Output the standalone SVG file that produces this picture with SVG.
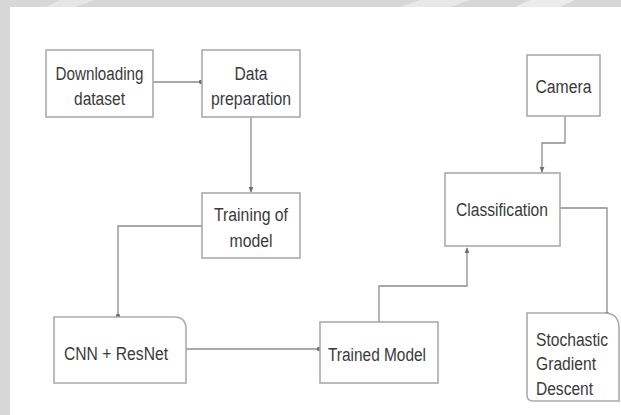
<svg xmlns="http://www.w3.org/2000/svg" width="621" height="415" viewBox="0 0 621 415">
<style>
.bg{fill:#ffffff}
.band{fill:#d7d7d7}
.box{fill:#ffffff;stroke:#ababab;stroke-width:1.6}
.lbl{font-family:"Liberation Sans",Arial,sans-serif;font-size:18px;fill:#3a3a3a;text-anchor:middle}
.lft{text-anchor:start}
.conn{fill:none;stroke:#8c8c8c;stroke-width:1.3}
</style>
<defs>
<marker id="dot" viewBox="0 0 6 6" refX="3" refY="3" markerWidth="5" markerHeight="5" markerUnits="userSpaceOnUse" orient="auto">
<circle cx="3" cy="3" r="2.6" fill="#6f6f6f"/>
</marker>
<marker id="arr" viewBox="0 0 8 8" refX="7" refY="4" markerWidth="6" markerHeight="6" markerUnits="userSpaceOnUse" orient="auto">
<path d="M0,0.8 L8,4 L0,7.2 Z" fill="#6f6f6f"/>
</marker>
</defs>
<rect class="bg" x="0" y="0" width="621" height="415"/>
<rect class="band" x="0" y="0" width="621" height="7"/>
<rect class="band" x="0" y="0" width="10" height="415"/>
<polygon points="60,0 95,0 75,7 45,7" fill="#e6e6e6"/>
<polygon points="420,0 470,0 450,7 400,7" fill="#e8e8e8"/>
<polygon points="530,0 575,0 560,7 515,7" fill="#ebebeb"/>

<g id="connectors">
<path class="conn" d="M153,82 H201" marker-end="url(#dot)"/>
<path class="conn" d="M251,117 V192" marker-end="url(#arr)"/>
<path class="conn" d="M202,226 H118 V316" marker-end="url(#dot)"/>
<path class="conn" d="M186,349 H319" marker-end="url(#dot)"/>
<path class="conn" d="M379,322 V286 H467 V248" marker-end="url(#arr)"/>
<path class="conn" d="M565,116 V143 H542 V172" marker-end="url(#arr)"/>
<path class="conn" d="M560,208 H607 V314" marker-end="url(#dot)"/>
</g>

<g id="downloading">
<rect class="box" x="46" y="50" width="107" height="67"/>
<text class="lbl" x="99.5" y="80" textLength="88" lengthAdjust="spacingAndGlyphs">Downloading</text>
<text class="lbl" x="99.5" y="105" textLength="51" lengthAdjust="spacingAndGlyphs">dataset</text>
</g>

<g id="data-preparation">
<rect class="box" x="202" y="50" width="98" height="67"/>
<text class="lbl" x="251" y="80" textLength="33" lengthAdjust="spacingAndGlyphs">Data</text>
<text class="lbl" x="251" y="105" textLength="80" lengthAdjust="spacingAndGlyphs">preparation</text>
</g>

<g id="camera">
<rect class="box" x="527" y="55" width="73" height="61"/>
<text class="lbl" x="563.5" y="93" textLength="56" lengthAdjust="spacingAndGlyphs">Camera</text>
</g>

<g id="training">
<rect class="box" x="202" y="193" width="98" height="65"/>
<text class="lbl" x="251" y="221" textLength="74" lengthAdjust="spacingAndGlyphs">Training of</text>
<text class="lbl" x="251" y="247" textLength="43" lengthAdjust="spacingAndGlyphs">model</text>
</g>

<g id="classification">
<rect class="box" x="445" y="173" width="115" height="73"/>
<text class="lbl" x="502" y="216" textLength="92" lengthAdjust="spacingAndGlyphs">Classification</text>
</g>

<g id="cnn-resnet">
<path class="box" d="M54,317 H174 Q186,317 186,329 V383 H54 Z"/>
<text class="lbl" x="116" y="360" textLength="104" lengthAdjust="spacingAndGlyphs">CNN + ResNet</text>
</g>

<g id="trained-model">
<rect class="box" x="320" y="322" width="118" height="61"/>
<text class="lbl" x="377" y="361" textLength="98" lengthAdjust="spacingAndGlyphs">Trained Model</text>
</g>

<g id="sgd">
<path class="box" d="M527,313 H604 Q619,313 619,328 V401 H533 Q527,401 527,395 Z"/>
<text class="lbl lft" x="536" y="346" textLength="72" lengthAdjust="spacingAndGlyphs">Stochastic</text>
<text class="lbl lft" x="536" y="370" textLength="60" lengthAdjust="spacingAndGlyphs">Gradient</text>
<text class="lbl lft" x="536" y="395" textLength="57" lengthAdjust="spacingAndGlyphs">Descent</text>
</g>
</svg>
